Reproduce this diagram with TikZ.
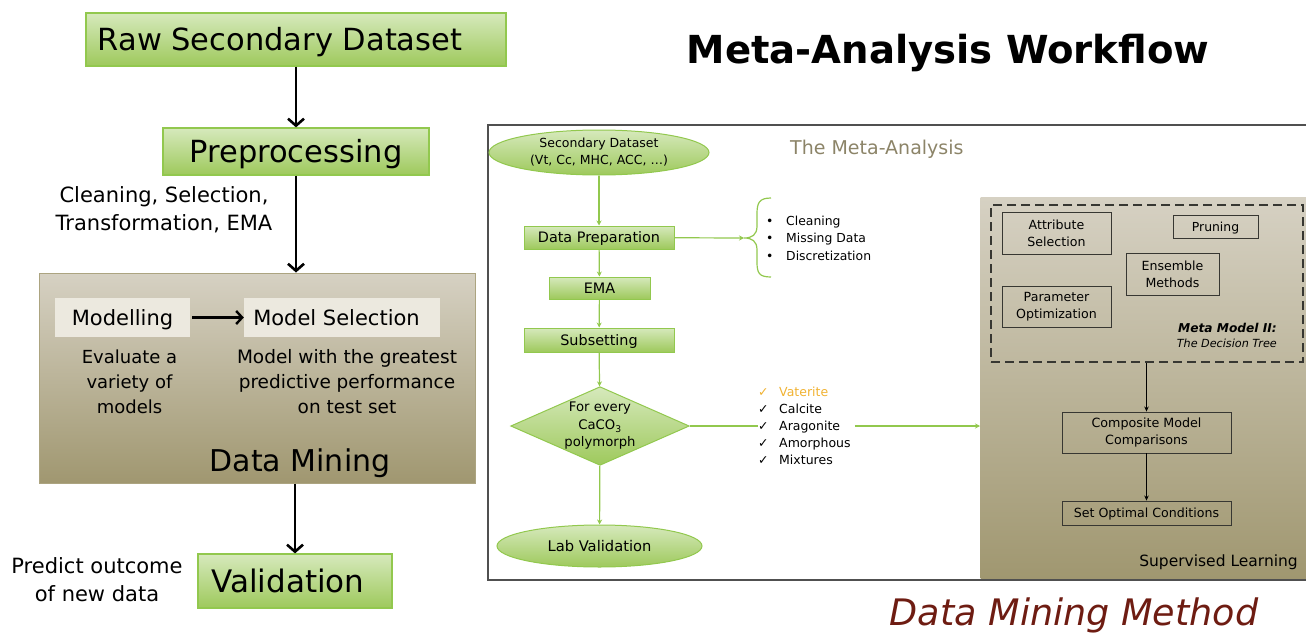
\documentclass[tikz,border=0pt]{standalone}
\usepackage{fontspec}
\setmainfont{DejaVu Sans}
\usetikzlibrary{shapes.geometric,arrows.meta}

\definecolor{gtop}{RGB}{214,233,188}
\definecolor{gbot}{RGB}{158,201,92}
\definecolor{gline}{RGB}{146,200,78}
\definecolor{btop}{RGB}{214,209,195}
\definecolor{bbot}{RGB}{160,151,112}
\definecolor{bline}{RGB}{172,164,128}
\definecolor{pale}{RGB}{236,233,223}
\definecolor{framec}{RGB}{80,80,80}
\definecolor{titlegray}{RGB}{140,132,104}
\definecolor{vater}{RGB}{240,178,50}
\definecolor{maroon}{RGB}{110,28,18}
\definecolor{dk}{RGB}{55,55,50}

\newcommand{\fsz}[2]{\fontsize{#1pt}{#2pt}\selectfont}

\tikzset{
  greenbox/.style={rectangle, draw=gline, line width=1.2pt, top color=gtop, bottom color=gbot, inner sep=0pt},
  greenoval/.style={ellipse, draw=gline, line width=1pt, top color=gtop, bottom color=gbot, inner sep=0pt, align=center},
  tanbox/.style={rectangle, draw=bline, line width=1pt, top color=btop, bottom color=bbot, inner sep=0pt},
  palebox/.style={rectangle, fill=pale, inner sep=0pt},
  thinbox/.style={rectangle, draw=dk, line width=0.9pt, inner sep=0pt, align=center},
  % centre a single line on its capitals: #1 is the cap height
  capc/.style={text height=#1, text depth=0pt},
  bigarrow/.style={line width=2.6pt, -{Straight Barb[length=7pt,width=16pt]}},
  garrow/.style={draw=gline, line width=1.2pt, -{Stealth[length=5pt,width=5pt]}},
  gline/.style={draw=gline, line width=1.2pt},
  karrow/.style={draw=black, line width=1pt, -{Stealth[length=5pt,width=4.5pt]}},
  plain/.style={inner sep=0pt, align=center},
}

\begin{document}
\begin{tikzpicture}[x=1pt,y=-1pt]
\useasboundingbox (0,0) rectangle (1306,632);

% ---------- left column: overall workflow ----------
\node[greenbox, capc=22pt, minimum width=420, minimum height=53, font=\fsz{30.5}{36}] (raw) at (296,39.5)
  {\hspace*{-32pt}Raw Secondary Dataset};
\node[greenbox, capc=22pt, minimum width=266, minimum height=47, font=\fsz{30.5}{36}] (prep) at (296,151.5)
  {Preprocessing};
\node[plain, font=\fsz{21}{28}] (prepnote) at (164,210)
  {Cleaning, Selection,\\Transformation, EMA};

\node[tanbox, minimum width=436, minimum height=210] (dm) at (257,378) {};
\node[palebox, capc=15.3pt, minimum width=135, minimum height=39, font=\fsz{21}{24}] (model) at (122.5,317.5)
  {Modelling};
\node[palebox, capc=15.3pt, minimum width=196, minimum height=39, font=\fsz{21}{24}] (msel) at (342,317.5)
  {\hspace*{-11pt}Model Selection};
\node[plain, font=\fsz{18}{25}] (evalnote) at (129.5,382)
  {Evaluate a\\variety of\\models};
\node[plain, font=\fsz{18.5}{25}] (selnote) at (347,382)
  {Model with the greatest\\predictive performance\\on test set};
\node[plain, anchor=base, font=\fsz{30}{34}] (dmlabel) at (300,471) {Data Mining};

\node[greenbox, capc=22.6pt, minimum width=194, minimum height=54, font=\fsz{31}{36}] (valid) at (295,581)
  {\hspace*{-14pt}Validation};
\node[plain, font=\fsz{21}{28}] (valnote) at (97,580)
  {Predict outcome\\of new data};

\draw[bigarrow] (raw) -- (prep);
\draw[bigarrow] (prep) -- (dm.north -| prep);
\draw[bigarrow] (dm.south -| valid) -- (valid);
\draw[line width=2.4pt, -{Straight Barb[length=6pt,width=13pt]}] (model.east) ++(2,0) -- (msel.west);

% ---------- title ----------
\node[plain, anchor=base, font=\fsz{38.6}{44}\bfseries] (title) at (948,63)
  {Meta-Analysis Workflow};

% ---------- right panel: meta-analysis ----------
\draw[framec, line width=2pt] (1307,125) -- (488,125) -- (488,580) -- (1307,580);
\node[plain, text=titlegray, anchor=base west, font=\fsz{19}{22}] (matitle) at (790,154) {The Meta-Analysis};

\node[greenoval, minimum width=220, minimum height=45, font=\fsz{12.5}{17}] (sd) at (599,152.5)
  {Secondary Dataset\\(Vt, Cc, MHC, ACC, …)};
\node[greenbox, capc=10.5pt, line width=1pt, minimum width=150, minimum height=23, font=\fsz{14.4}{17}] (dp) at (599,237.5)
  {Data Preparation};
\node[greenbox, capc=10.5pt, line width=1pt, minimum width=101, minimum height=22, font=\fsz{14.4}{17}] (ema) at (599.5,288)
  {EMA};
\node[greenbox, capc=10.5pt, line width=1pt, minimum width=150, minimum height=24, font=\fsz{14.4}{17}] (sub) at (599,340)
  {Subsetting};
\node[diamond, draw=gline, line width=1pt, top color=gtop, bottom color=gbot,
      aspect=2.27, inner sep=0pt, minimum width=177, minimum height=78, align=center,
      font=\fsz{13.2}{17.5}] (dia) at (600,426)
  {For every\\CaCO\textsubscript{3}\\polymorph};
\node[greenoval, capc=10.7pt, minimum width=205, minimum height=42, font=\fsz{14.7}{17}] (lab) at (599.5,546)
  {Lab Validation};

\draw[garrow] (sd) -- (dp);
\draw[garrow] (dp) -- (ema);
\draw[garrow] (ema) -- (sub);
\draw[garrow] (sub) -- (dia);
\draw[garrow] (dia) -- (lab);

% brace with the preparation steps
\coordinate (btip) at (744,238);
\draw[gline] (771,198) .. controls (759,198) and (757,203) .. (757,214)
  -- (757,226) .. controls (757,235) and (752,238) .. (btip)
  .. controls (752,238) and (757,241) .. (757,250)
  -- (757,262) .. controls (757,273) and (759,277) .. (771,277);
\draw[garrow] (dp) -- (btip);
\node[plain, anchor=west, align=left, font=\fsz{12.4}{17.5}] (steps) at (766,238)
  {\makebox[20pt][l]{•}Cleaning\\\makebox[20pt][l]{•}Missing Data\\\makebox[20pt][l]{•}Discretization};

% polymorph checklist
\node[plain, anchor=west, align=left, font=\fsz{12.5}{17}] (chk) at (758,426)
  {{\color{vater}\makebox[21pt][l]{✓}Vaterite}\\\makebox[21pt][l]{✓}Calcite\\
   \makebox[21pt][l]{✓}Aragonite\\\makebox[21pt][l]{✓}Amorphous\\\makebox[21pt][l]{✓}Mixtures};

% supervised learning block
\node[tanbox, draw=none, minimum width=326, minimum height=381, anchor=north west] (sup) at (980,197) {};
\draw[gline] (dia.east) -- (chk.west);
\draw[garrow] (chk.east) ++(4,0) -- (sup.west |- chk.east);

\node[rectangle, draw=dk, dashed, dash pattern=on 9pt off 5pt, line width=1.5pt,
      minimum width=312, minimum height=157, inner sep=0pt] (meta) at (1147,283.5) {};
\node[thinbox, minimum width=109, minimum height=42, font=\fsz{12.6}{17}] (attr) at (1056.5,233)
  {Attribute\\Selection};
\node[thinbox, capc=9pt, minimum width=85, minimum height=23, font=\fsz{12.4}{15}] (prun) at (1215.5,226.5)
  {Pruning};
\node[thinbox, minimum width=93, minimum height=42, font=\fsz{12.6}{17}] (ens) at (1172.5,274)
  {Ensemble\\Methods};
\node[thinbox, minimum width=109, minimum height=41, font=\fsz{12.6}{17}] (param) at (1056.5,306.5)
  {Parameter\\Optimization};
\node[plain, anchor=east, font=\fsz{12.2}{14}\bfseries\itshape] (mm1) at (1277,328) {Meta Model II:};
\node[plain, anchor=east, font=\fsz{11.2}{13}\itshape] (mm2) at (1277,343) {The Decision Tree};

\node[thinbox, minimum width=169, minimum height=41, font=\fsz{12.7}{17}] (comp) at (1146.5,432.5)
  {Composite Model\\Comparisons};
\node[thinbox, capc=9.2pt, minimum width=169, minimum height=24, font=\fsz{12.6}{15}] (opt) at (1146.5,513)
  {Set Optimal Conditions};
\node[plain, anchor=base east, font=\fsz{15.5}{18}] (suplabel) at (1298,566) {Supervised Learning};

\draw[karrow] (meta.south -| comp) -- (comp);
\draw[karrow] (comp) -- (opt);

% ---------- caption ----------
\node[plain, anchor=base, text=maroon, font=\fsz{36.5}{40}\itshape] (caption) at (1074,625) {Data Mining Method};
\end{tikzpicture}
\end{document}
